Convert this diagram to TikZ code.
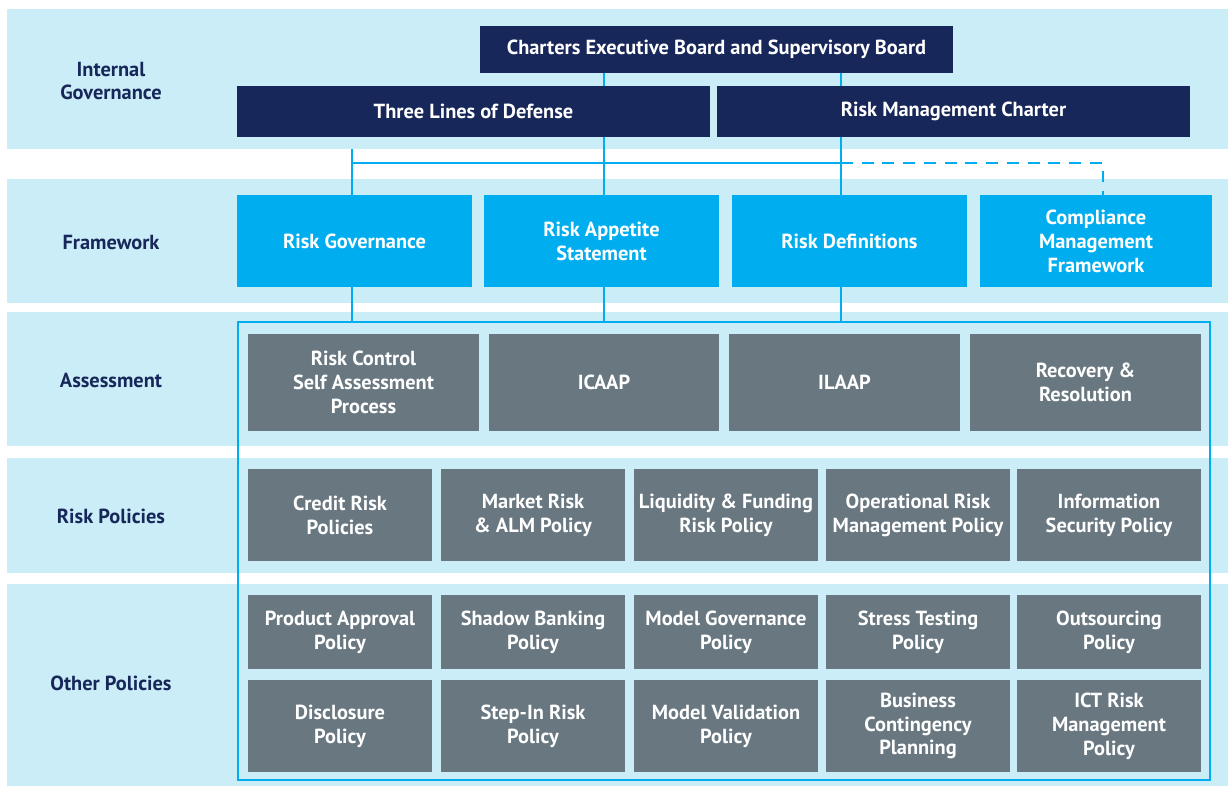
\documentclass[tikz,border=0pt]{standalone}
\usepackage{fontspec}
\setmainfont{PT Sans}
\definecolor{navyblue}{RGB}{24, 39, 90}
\definecolor{skycyan}{RGB}{0, 174, 239}
\definecolor{paleband}{RGB}{202, 237, 248}
\definecolor{slategray}{RGB}{104, 119, 128}
\newcommand{\boxfont}{\bfseries\fontsize{11.6}{13.6}\selectfont}

\begin{document}
\begin{tikzpicture}[x=0.02cm, y=-0.02cm,
        band/.style={fill=paleband, inner sep=0pt, outer sep=0pt,
            minimum width=24.42cm},
        board/.style={fill=navyblue, text=white, font=\boxfont,
            inner sep=0pt, outer sep=0pt, minimum width=9.46cm, align=center},
        fwbox/.style={fill=skycyan, text=white, font=\boxfont,
            inner sep=0pt, outer sep=0pt, minimum height=1.84cm,
            minimum width=4.7cm, align=center},
        polbox/.style={fill=slategray, text=white, font=\boxfont,
            inner sep=0pt, outer sep=0pt, align=center},
        lbl/.style={text=navyblue, font=\boxfont, align=center},
        conn/.style={draw=skycyan, line width=1.2pt}
    ]
    \useasboundingbox (0,0) rectangle (1228,787);

    % === Background bands ===
    \node[band, minimum height=2.8cm] (band1) at (617.5, 79) {};
    \node[band, minimum height=2.48cm] (band2) at (617.5, 241) {};
    \node[band, minimum height=2.68cm] (band3) at (617.5, 379) {};
    \node[band, minimum height=2.3cm] (band4) at (617.5, 515.5) {};
    \node[band, minimum height=4.04cm] (band5) at (617.5, 685) {};

    % === Row labels ===
    \node[lbl] (lblgov) at (111, 81) {Internal\\Governance};
    \node[lbl] (lblfw) at (111, 243) {Framework};
    \node[lbl] (lblass) at (111, 380) {Assessment};
    \node[lbl] (lblrp) at (111, 516) {Risk Policies};
    \node[lbl] (lblop) at (111, 683) {Other Policies};

    % === Internal governance (navy) ===
    \node[board, minimum height=0.94cm] (ceb) at (716.5, 49.5)
        {Charters Executive Board and Supervisory Board};
    \node[board, minimum height=1.02cm] (tld) at (473.5, 111.5)
        {Three Lines of Defense};
    \node[board, minimum height=1.02cm] (rmc) at (953.5, 111.5)
        {Risk Management Charter};

    % === Framework (cyan) ===
    \node[fwbox] (rg) at (354.5, 241) {Risk Governance};
    \node[fwbox] (ras) at (601.5, 241) {Risk Appetite\\Statement};
    \node[fwbox] (rd) at (849.5, 241) {Risk Definitions};
    \node[fwbox, minimum width=4.64cm] (cmf) at (1096, 241)
        {Compliance\\Management\\Framework};

    % === Frame round the policies ===
    \node[draw=skycyan, line width=1.2pt, inner sep=0pt, outer sep=0pt,
          minimum width=19.44cm, minimum height=9.16cm] (outer) at (724, 551) {};

    % === Assessment (gray) ===
    \node[polbox, minimum width=4.62cm, minimum height=1.94cm] (rcsa) at (363.5, 382.5)
        {Risk Control\\Self Assessment\\Process};
    \node[polbox, minimum width=4.62cm, minimum height=1.94cm] (icaap) at (604, 382.5) {ICAAP};
    \node[polbox, minimum width=4.62cm, minimum height=1.94cm] (ilaap) at (844.5, 382.5) {ILAAP};
    \node[polbox, minimum width=4.62cm, minimum height=1.94cm] (rr) at (1085.5, 382.5)
        {Recovery \&\\Resolution};

    % === Risk policies ===
    \node[polbox, minimum width=3.68cm, minimum height=1.84cm] (crp) at (340, 515)
        {Credit Risk\\Policies};
    \node[polbox, minimum width=3.68cm, minimum height=1.84cm] (mrp) at (533, 515)
        {Market Risk\\\& ALM Policy};
    \node[polbox, minimum width=3.68cm, minimum height=1.84cm] (lfp) at (726, 515)
        {Liquidity \& Funding\\Risk Policy};
    \node[polbox, minimum width=3.68cm, minimum height=1.84cm] (orp) at (918, 515)
        {Operational Risk\\Management Policy};
    \node[polbox, minimum width=3.68cm, minimum height=1.84cm] (isp) at (1109, 515)
        {Information\\Security Policy};

    % === Other policies, first row ===
    \node[polbox, minimum width=3.68cm, minimum height=1.48cm] (pap) at (340, 632)
        {Product Approval\\Policy};
    \node[polbox, minimum width=3.68cm, minimum height=1.48cm] (sbp) at (533, 632)
        {Shadow Banking\\Policy};
    \node[polbox, minimum width=3.68cm, minimum height=1.48cm] (mgp) at (726, 632)
        {Model Governance\\Policy};
    \node[polbox, minimum width=3.68cm, minimum height=1.48cm] (stp) at (918, 632)
        {Stress Testing\\Policy};
    \node[polbox, minimum width=3.68cm, minimum height=1.48cm] (osp) at (1109, 632)
        {Outsourcing\\Policy};

    % === Other policies, second row ===
    \node[polbox, minimum width=3.68cm, minimum height=1.84cm] (dp) at (340, 726)
        {Disclosure\\Policy};
    \node[polbox, minimum width=3.68cm, minimum height=1.84cm] (sirp) at (533, 726)
        {Step-In Risk\\Policy};
    \node[polbox, minimum width=3.68cm, minimum height=1.84cm] (mvp) at (726, 726)
        {Model Validation\\Policy};
    \node[polbox, minimum width=3.68cm, minimum height=1.84cm] (bcp) at (918, 726)
        {Business\\Contingency\\Planning};
    \node[polbox, minimum width=3.68cm, minimum height=1.84cm] (ictp) at (1109, 726)
        {ICT Risk\\Management\\Policy};

    % === Connectors ===
    \coordinate (bus) at (0, 163);
    \coordinate (xrg) at (352, 0);
    \coordinate (xras) at (604, 0);
    \coordinate (xrd) at (841, 0);
    \coordinate (xcmf) at (1103, 0);
    \draw[conn] (xras |- ceb.south) -- (xras |- tld.north);
    \draw[conn] (xrd |- ceb.south) -- (xrd |- rmc.north);
    \draw[conn] (xras |- tld.south) -- (xras |- ras.north);
    \draw[conn] (xrd |- rmc.south) -- (xrd |- rd.north);
    \draw[conn] (xrg |- band1.south) -- (xrg |- rg.north);
    \draw[conn] (xrg |- bus) -- (xrd |- bus);
    \draw[conn, dash pattern=on 6.8pt off 5pt]
        (xrd |- bus) -- (xcmf |- bus) -- (xcmf |- cmf.north);

    \draw[conn] (xrg |- rg.south) -- (xrg |- outer.north);
    \draw[conn] (xras |- ras.south) -- (xras |- outer.north);
    \draw[conn] (xrd |- rd.south) -- (xrd |- outer.north);

\end{tikzpicture}
\end{document}
